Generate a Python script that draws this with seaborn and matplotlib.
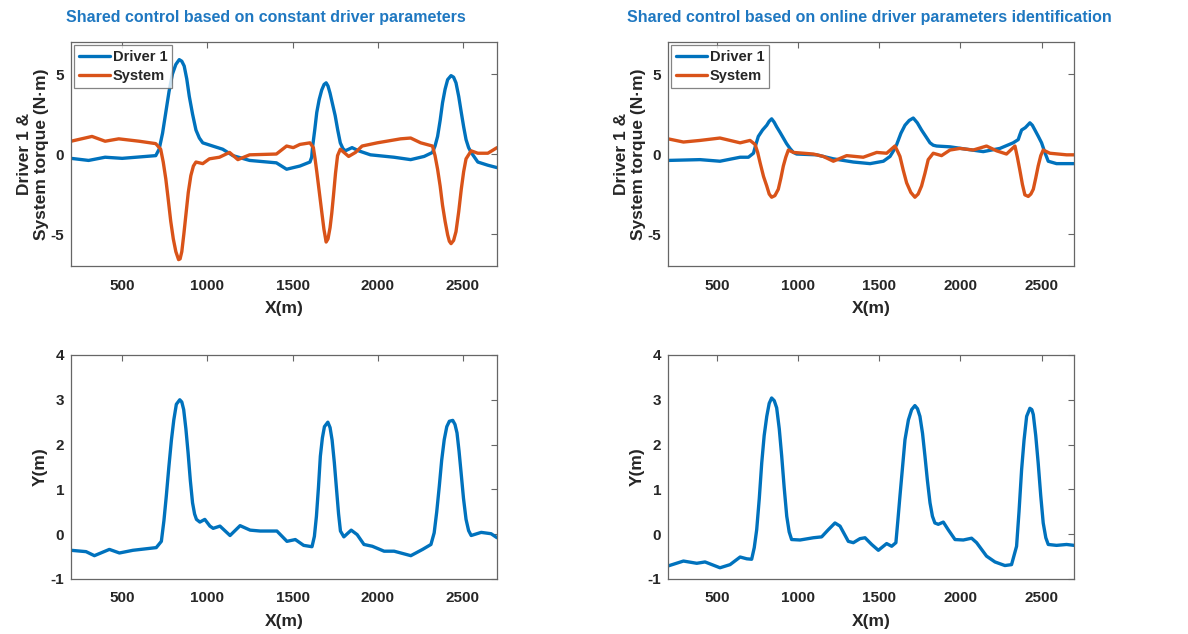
import numpy as np
import pandas as pd
import matplotlib
matplotlib.use('Agg')
import matplotlib.pyplot as plt
import seaborn as sns

# ---- data ----
# top left: constant driver parameters, torques
tl_x_drv = [200, 303, 400, 500, 697, 717, 737, 756, 775, 795, 815, 835, 850, 864, 879, 894, 913,
            933, 953, 973, 1031, 1090, 1150, 1248, 1405, 1465, 1543, 1602, 1612, 1618, 1630, 1642,
            1656, 1671, 1685, 1697, 1708, 1720, 1735, 1750, 1765, 1780, 1795, 1809, 1849, 1888,
            1957, 2095, 2193, 2272, 2321, 2336, 2351, 2366, 2380, 2395, 2410, 2430, 2445, 2459,
            2475, 2490, 2504, 2518, 2533, 2548, 2587, 2646, 2700]
tl_y_drv = [-0.27, -0.4, -0.2, -0.27, -0.1, 0.3, 1.3, 2.6, 3.9, 5.0, 5.6, 5.9, 5.8, 5.5, 4.7, 3.6,
            2.5, 1.5, 1.0, 0.7, 0.5, 0.3, -0.1, -0.4, -0.55, -0.95, -0.75, -0.5, -0.2, 0.5, 1.5,
            2.6, 3.4, 4.0, 4.35, 4.45, 4.25, 3.8, 3.1, 2.4, 1.5, 0.7, 0.35, 0.2, 0.4, 0.2,
            -0.05, -0.2, -0.35, -0.15, 0.1, 0.5, 1.1, 2.1, 3.2, 4.05, 4.65, 4.9, 4.8, 4.45,
            3.6, 2.6, 1.7, 0.9, 0.4, 0.1, -0.5, -0.7, -0.85]
tl_x_sys = [200, 323, 400, 480, 600, 697, 726, 741, 756, 770, 785, 800, 815, 831, 840, 850, 862,
            874, 888, 903, 918, 933, 973, 1012, 1071, 1130, 1179, 1248, 1405, 1465, 1504, 1543,
            1602, 1622, 1632, 1642, 1656, 1671, 1684, 1697, 1708, 1720, 1730, 1740, 1752, 1764,
            1780, 1829, 1869, 1908, 1997, 2134, 2193, 2252, 2321, 2336, 2351, 2366, 2380, 2395,
            2410, 2420, 2430, 2445, 2459, 2475, 2490, 2504, 2518, 2548, 2587, 2646, 2700]
tl_y_sys = [0.8, 1.1, 0.8, 0.95, 0.8, 0.65, 0.3, -0.5, -1.55, -2.8, -4.2, -5.3, -6.1, -6.6, -6.55,
            -6.1, -5.0, -3.8, -2.4, -1.35, -0.75, -0.5, -0.6, -0.3, -0.2, 0.1, -0.35, -0.05, 0.0,
            0.5, 0.4, 0.6, 0.7, 0.4, -0.3, -1.1, -2.3, -3.6, -4.7, -5.5, -5.3, -4.6, -3.7, -2.6,
            -1.2, -0.1, 0.3, -0.15, 0.1, 0.5, 0.7, 0.95, 1.0, 0.7, 0.5, -0.1, -0.95, -2.0, -3.2,
            -4.2, -5.05, -5.45, -5.6, -5.4, -4.85, -3.6, -2.2, -1.1, -0.3, 0.2, 0.05, 0.05, 0.4]

# top right: online identification, torques
tr_x_drv = [200, 397, 520, 644, 695, 726, 741, 756, 782, 808, 823, 838, 853, 869, 890, 910, 930,
            951, 972, 992, 1115, 1218, 1341, 1444, 1526, 1567, 1588, 1608, 1634, 1659, 1685, 1710,
            1735, 1761, 1787, 1813, 1833, 1854, 1936, 2038, 2141, 2243, 2325, 2356, 2366, 2377,
            2400, 2428, 2443, 2459, 2480, 2500, 2520, 2541, 2592, 2700]
tr_y_drv = [-0.4, -0.35, -0.45, -0.2, -0.2, 0.05, 0.6, 1.1, 1.5, 1.8, 2.05, 2.2, 2.0, 1.7, 1.35,
            1.0, 0.65, 0.35, 0.1, 0.0, -0.05, -0.3, -0.5, -0.6, -0.45, -0.15, 0.2, 0.6, 1.3, 1.8,
            2.1, 2.25, 1.95, 1.5, 1.1, 0.7, 0.55, 0.5, 0.45, 0.3, 0.15, 0.35, 0.7, 0.9, 1.2, 1.5,
            1.65, 1.95, 1.8, 1.5, 1.1, 0.7, 0.1, -0.45, -0.6, -0.6]
tr_x_sys = [200, 295, 397, 520, 644, 705, 736, 752, 767, 788, 808, 823, 838, 858, 879, 895, 910,
            925, 941, 972, 1095, 1156, 1218, 1300, 1402, 1485, 1546, 1597, 1612, 1628, 1648, 1669,
            1695, 1720, 1740, 1761, 1782, 1802, 1833, 1884, 1936, 1997, 2079, 2161, 2223, 2284,
            2336, 2351, 2366, 2382, 2397, 2418, 2434, 2449, 2464, 2479, 2495, 2510, 2551, 2654,
            2700]
tr_y_sys = [0.95, 0.75, 0.85, 1.0, 0.7, 0.85, 0.6, 0.1, -0.55, -1.4, -2.0, -2.5, -2.7, -2.6, -2.2,
            -1.5, -0.75, -0.2, 0.25, 0.1, 0.0, -0.15, -0.45, -0.1, -0.2, 0.1, 0.05, 0.5, 0.2,
            -0.15, -1.0, -1.8, -2.4, -2.7, -2.5, -2.0, -1.2, -0.35, 0.05, -0.1, 0.25, 0.35, 0.25,
            0.5, 0.2, 0.0, 0.5, -0.2, -1.0, -1.9, -2.55, -2.65, -2.5, -2.2, -1.5, -0.75, -0.1,
            0.25, 0.05, -0.05, -0.05]

# bottom left: lateral position, constant parameters
bl_x = [200, 288, 337, 425, 484, 563, 700, 730, 745, 759, 774, 789, 803, 818, 838, 850, 861, 874,
        887, 900, 913, 925, 936, 956, 985, 1015, 1034, 1074, 1133, 1192, 1251, 1310, 1408, 1467,
        1516, 1565, 1614, 1628, 1640, 1652, 1663, 1675, 1687, 1707, 1720, 1732, 1745, 1758, 1770,
        1781, 1801, 1844, 1879, 1919, 1968, 2037, 2096, 2194, 2263, 2312, 2331, 2346, 2361, 2375,
        2390, 2405, 2420, 2440, 2453, 2465, 2477, 2489, 2503, 2518, 2533, 2548, 2607, 2665, 2700]
bl_y = [-0.36, -0.39, -0.48, -0.34, -0.42, -0.36, -0.3, -0.16, 0.3, 0.85, 1.5, 2.1, 2.55, 2.9,
        3.0, 2.95, 2.78, 2.35, 1.81, 1.2, 0.7, 0.45, 0.33, 0.27, 0.33, 0.18, 0.13, 0.18, -0.03,
        0.19, 0.09, 0.07, 0.07, -0.16, -0.12, -0.25, -0.28, -0.05, 0.4, 1.05, 1.74, 2.15, 2.4,
        2.5, 2.38, 2.1, 1.6, 1.0, 0.45, 0.07, -0.06, 0.09, -0.01, -0.23, -0.27, -0.38, -0.38,
        -0.48, -0.34, -0.23, 0.03, 0.5, 1.07, 1.65, 2.11, 2.4, 2.52, 2.54, 2.45, 2.26, 1.85,
        1.37, 0.8, 0.33, 0.08, -0.03, 0.04, 0.01, -0.08]

# bottom right: lateral position, online identification
br_x = [200, 295, 377, 428, 520, 582, 644, 685, 715, 731, 746, 762, 777, 792, 808, 823, 838, 854,
        869, 885, 900, 915, 931, 946, 961, 1013, 1095, 1146, 1187, 1228, 1259, 1310, 1341, 1382,
        1413, 1454, 1495, 1546, 1577, 1603, 1615, 1628, 1644, 1659, 1680, 1700, 1720, 1736, 1751,
        1767, 1782, 1797, 1813, 1828, 1843, 1864, 1895, 1925, 1967, 2018, 2069, 2100, 2161, 2213,
        2274, 2315, 2346, 2361, 2377, 2392, 2408, 2428, 2440, 2449, 2464, 2479, 2495, 2510, 2526,
        2541, 2592, 2654, 2700]
br_y = [-0.71, -0.6, -0.65, -0.62, -0.75, -0.68, -0.51, -0.55, -0.56, -0.3, 0.1, 0.8, 1.59, 2.2,
        2.63, 2.92, 3.04, 2.98, 2.82, 2.35, 1.74, 1.05, 0.4, 0.05, -0.12, -0.13, -0.08, -0.06,
        0.1, 0.25, 0.18, -0.16, -0.19, -0.1, -0.08, -0.23, -0.36, -0.21, -0.27, -0.19, 0.3,
        0.85, 1.5, 2.11, 2.55, 2.78, 2.87, 2.8, 2.63, 2.25, 1.74, 1.2, 0.7, 0.4, 0.25, 0.22,
        0.27, 0.1, -0.12, -0.13, -0.09, -0.19, -0.49, -0.62, -0.7, -0.68, -0.27, 0.5, 1.44, 2.1,
        2.63, 2.81, 2.78, 2.67, 2.2, 1.59, 0.85, 0.25, -0.08, -0.23, -0.25, -0.23, -0.25]

titles = ['Shared control based on constant driver parameters',
          'Shared control based on online driver parameters identification']

BLUE = '#0072BD'
ORANGE = '#D95319'
TITLE_C = '#1F78C1'
GRID_C = '#666666'
TXT_C = '#262626'

sns.set_style('white')
plt.rcParams['font.family'] = ['Liberation Sans', 'DejaVu Sans']
plt.rcParams['font.weight'] = 'bold'
plt.rcParams['axes.unicode_minus'] = False

fig = plt.figure(figsize=(11.88, 6.34), dpi=100)
ax_tl = fig.add_axes([0.0598, 0.5804, 0.3586, 0.3533])
ax_tr = fig.add_axes([0.5623, 0.5804, 0.3418, 0.3533])
ax_bl = fig.add_axes([0.0598, 0.0868, 0.3586, 0.3533])
ax_br = fig.add_axes([0.5623, 0.0868, 0.3418, 0.3533])


def style(ax):
    ax.set_xlim(200, 2700)
    ax.set_xticks([500, 1000, 1500, 2000, 2500])
    ax.tick_params(direction='in', top=True, right=True, length=4, width=0.8,
                   color=GRID_C, labelsize=11, labelcolor=TXT_C)
    ax.tick_params(axis='x', pad=9)
    ax.tick_params(axis='y', pad=5)
    for lab in ax.get_xticklabels() + ax.get_yticklabels():
        lab.set_fontweight('bold')
    for s in ax.spines.values():
        s.set_color(GRID_C)
        s.set_linewidth(0.9)
    ax.set_xlabel('X(m)', fontsize=12.5, fontweight='bold', color=TXT_C, labelpad=6)


for ax, xd, yd, xs, ys in [(ax_tl, tl_x_drv, tl_y_drv, tl_x_sys, tl_y_sys),
                           (ax_tr, tr_x_drv, tr_y_drv, tr_x_sys, tr_y_sys)]:
    sns.lineplot(x=xd, y=yd, ax=ax, color=BLUE, linewidth=2.4, label='Driver 1')
    sns.lineplot(x=xs, y=ys, ax=ax, color=ORANGE, linewidth=2.4, label='System')
    ax.set_ylim(-7, 7)
    ax.set_yticks([-5, 0, 5])
    style(ax)
    ax.set_ylabel('Driver 1 &\nSystem torque (N\u00b7m)', fontsize=12.5, fontweight='bold',
                  color=TXT_C, labelpad=1)
    leg = ax.legend(loc='upper left', fontsize=10.5, frameon=True, fancybox=False,
                    handlelength=2.1, borderaxespad=0.2, borderpad=0.35, labelspacing=0.35,
                    handletextpad=0.2)
    leg.get_frame().set_edgecolor(GRID_C)
    leg.get_frame().set_linewidth(0.9)
    for t in leg.get_texts():
        t.set_fontweight('bold')

for ax, x, y in [(ax_bl, bl_x, bl_y), (ax_br, br_x, br_y)]:
    sns.lineplot(x=x, y=y, ax=ax, color=BLUE, linewidth=2.4)
    ax.set_ylim(-1, 4)
    ax.set_yticks([-1, 0, 1, 2, 3, 4])
    style(ax)
    ax.set_ylabel('Y(m)', fontsize=12.5, fontweight='bold', color=TXT_C, labelpad=2)

fig.text(0.224, 0.972, titles[0], ha='center', va='center', fontsize=11.5,
         fontweight='bold', color=TITLE_C)
fig.text(0.732, 0.972, titles[1], ha='center', va='center', fontsize=11.5,
         fontweight='bold', color=TITLE_C)

fig.savefig('out.png', dpi=100)
